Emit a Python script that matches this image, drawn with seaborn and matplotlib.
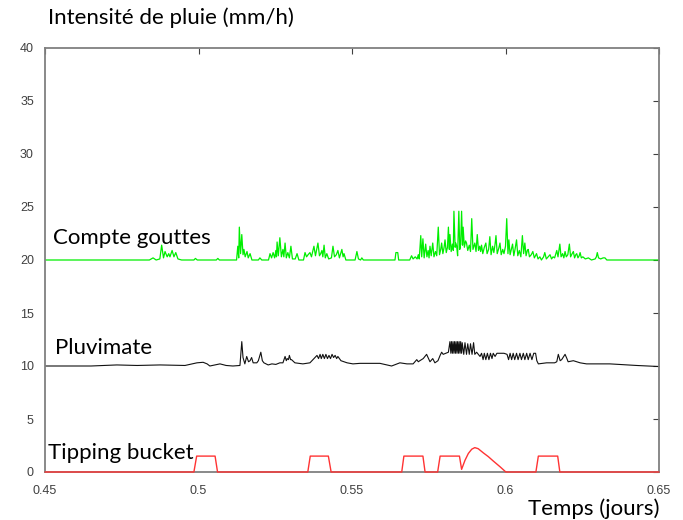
import matplotlib
matplotlib.use("Agg")
import matplotlib.pyplot as plt
import seaborn as sns
import pandas as pd

# --- Drop counter ("Compte gouttes") series, mm/h, offset to 20 ---
t_drops = [0.450, 0.484, 0.4852, 0.4862, 0.4874, 0.4880, 0.4886, 0.4891, 0.4898, 0.4903,
           0.4907, 0.4914, 0.4920, 0.4926, 0.4933, 0.4945, 0.4985, 0.4990, 0.4996, 0.5058,
           0.5063, 0.5068, 0.5124, 0.5128, 0.5131, 0.5133, 0.5137, 0.5141, 0.5145, 0.5148,
           0.5152, 0.5158, 0.5162, 0.5168, 0.5174, 0.5195, 0.5200, 0.5206, 0.5228, 0.5233,
           0.5238, 0.5243, 0.5248, 0.5252, 0.5254, 0.5256, 0.5260, 0.5265, 0.5270, 0.5275,
           0.5278, 0.5282, 0.5286, 0.5291, 0.5296, 0.5301, 0.5306, 0.5315, 0.5321, 0.5327,
           0.5342, 0.5347, 0.5352, 0.5357, 0.5363, 0.5368, 0.5376, 0.5381, 0.5389, 0.5394,
           0.5398, 0.5402, 0.5405, 0.5409, 0.5413, 0.5418, 0.5424, 0.5433, 0.5438, 0.5443,
           0.5449, 0.5454, 0.5459, 0.5467, 0.5471, 0.5474, 0.5480, 0.5510, 0.5516, 0.5521,
           0.5528, 0.5532, 0.5537, 0.5640, 0.5643, 0.5649, 0.5652, 0.5688, 0.5694, 0.5699,
           0.5706, 0.5712, 0.5716, 0.5719, 0.5724, 0.5727, 0.5731, 0.5735, 0.5740, 0.5744,
           0.5748, 0.5751, 0.5754, 0.5758, 0.5763, 0.5767, 0.5772, 0.5776, 0.5781, 0.5785,
           0.5789, 0.5792, 0.5796, 0.5800, 0.5803, 0.5807, 0.5811, 0.5814, 0.5817, 0.5819,
           0.5823, 0.5827, 0.5830, 0.5832, 0.5836, 0.5838, 0.5841, 0.5844, 0.5848, 0.5851,
           0.5854, 0.5857, 0.5860, 0.5862, 0.5866, 0.5870, 0.5873, 0.5877, 0.5882, 0.5886,
           0.5890, 0.5894, 0.5897, 0.5900, 0.5904, 0.5908, 0.5912, 0.5916, 0.5919, 0.5922,
           0.5926, 0.5931, 0.5936, 0.5940, 0.5945, 0.5949, 0.5953, 0.5958, 0.5962, 0.5966,
           0.5969, 0.5973, 0.5978, 0.5982, 0.5986, 0.5991, 0.5995, 0.6000, 0.6004, 0.6008,
           0.6011, 0.6015, 0.6019, 0.6023, 0.6027, 0.6031, 0.6036, 0.6040, 0.6045, 0.6050,
           0.6055, 0.6059, 0.6063, 0.6067, 0.6071, 0.6074, 0.6078, 0.6084, 0.6089, 0.6094,
           0.6101, 0.6106, 0.6112, 0.6117, 0.6124, 0.6128, 0.6133, 0.6139, 0.6145, 0.6150,
           0.6155, 0.6160, 0.6167, 0.6171, 0.6177, 0.6181, 0.6186, 0.6190, 0.6194, 0.6198,
           0.6203, 0.6208, 0.6212, 0.6217, 0.6221, 0.6225, 0.6229, 0.6232, 0.6236, 0.6240,
           0.6243, 0.6247, 0.6252, 0.6260, 0.6270, 0.6280, 0.6292, 0.6296, 0.6299, 0.6303,
           0.6310, 0.6318, 0.6324, 0.6330, 0.650]
v_drops = [20.0, 20.0, 20.2, 20.0, 20.1, 21.4, 20.2, 20.8, 20.3, 20.6,
           20.3, 20.9, 20.3, 20.7, 20.1, 20.0, 20.0, 20.15, 20.0, 20.0,
           20.15, 20.0, 20.0, 21.3, 20.2, 23.1, 20.6, 22.4, 20.5, 21.0,
           20.3, 20.8, 20.2, 20.6, 20.0, 20.0, 20.2, 20.0, 20.0, 20.6,
           20.2, 20.7, 20.2, 20.9, 20.3, 21.7, 20.4, 22.1, 20.3, 21.0,
           20.3, 21.6, 20.2, 20.7, 20.2, 21.3, 20.1, 20.1, 20.6, 20.0,
           20.0, 20.7, 20.3, 20.5, 20.7, 20.3, 21.3, 20.4, 21.6, 20.4,
           20.6, 20.9, 20.3, 21.4, 20.2, 20.6, 20.1, 20.2, 21.3, 20.3,
           20.5, 20.9, 20.2, 21.0, 20.3, 20.6, 20.0, 20.0, 20.8, 20.1,
           20.0, 20.2, 20.0, 20.0, 20.7, 20.7, 20.0, 20.0, 20.4, 20.1,
           20.3, 20.1, 20.5, 20.1, 22.3, 20.3, 22.0, 20.2, 21.5, 20.3,
           20.9, 20.2, 21.3, 20.4, 21.6, 20.3, 20.8, 20.4, 23.1, 20.5,
           21.0, 21.6, 20.6, 21.2, 21.9, 20.7, 21.2, 23.1, 21.0, 22.4,
           20.8, 21.5, 20.9, 24.6, 21.2, 21.6, 21.3, 20.4, 24.6, 21.0,
           21.5, 24.6, 21.4, 23.1, 21.2, 21.8, 21.6, 20.9, 21.4, 20.8,
           23.9, 21.0, 21.3, 21.6, 20.8, 22.4, 20.9, 21.3, 20.8, 21.4,
           20.6, 21.2, 21.6, 20.6, 21.0, 22.2, 20.5, 21.3, 20.7, 21.5,
           22.3, 20.6, 21.1, 21.6, 20.5, 21.0, 20.6, 21.3, 23.9, 20.6,
           21.9, 20.5, 21.0, 21.5, 20.4, 21.0, 21.9, 20.4, 20.9, 20.3,
           22.3, 20.6, 21.6, 20.4, 20.9, 21.0, 20.3, 20.5, 20.8, 20.2,
           20.6, 20.1, 20.3, 20.0, 20.3, 20.7, 20.1, 20.3, 20.5, 20.1,
           20.3, 20.2, 20.9, 20.3, 21.5, 20.3, 20.6, 20.2, 20.8, 20.3,
           20.5, 21.5, 20.3, 20.6, 20.8, 20.2, 20.5, 20.6, 20.2, 20.4,
           20.7, 20.2, 20.3, 20.1, 20.2, 20.0, 20.1, 20.3, 20.7, 20.2,
           20.1, 20.2, 20.2, 20.0, 20.0]

# --- Pluvimate series, mm/h, offset to 10 ---
t_pluvi = [0.450, 0.465, 0.4734, 0.4800, 0.4875, 0.4956, 0.4995, 0.5015, 0.5028, 0.5037,
           0.5054, 0.5070, 0.5090, 0.5112, 0.5135, 0.5141, 0.5145, 0.5151, 0.5157, 0.5163,
           0.5168, 0.5173, 0.5178, 0.5184, 0.5190, 0.5195, 0.5203, 0.5208, 0.5213, 0.5227,
           0.5239, 0.5252, 0.5265, 0.5275, 0.5282, 0.5286, 0.5289, 0.5293, 0.5296, 0.5300,
           0.5303, 0.5314, 0.5340, 0.5363, 0.5386, 0.5391, 0.5396, 0.5400, 0.5405, 0.5410,
           0.5415, 0.5420, 0.5425, 0.5430, 0.5435, 0.5440, 0.5445, 0.5450, 0.5454, 0.5464,
           0.5474, 0.5484, 0.5503, 0.5526, 0.5591, 0.5629, 0.5656, 0.5679, 0.5699, 0.5711,
           0.5716, 0.5721, 0.5732, 0.5743, 0.5754, 0.5763, 0.5770, 0.5780, 0.5787, 0.5792,
           0.5797, 0.5806, 0.5814, 0.5819, 0.5822, 0.5824, 0.5827, 0.5829, 0.5832, 0.5834,
           0.5837, 0.5839, 0.5842, 0.5844, 0.5847, 0.5849, 0.5852, 0.5854, 0.5857, 0.5859,
           0.5864, 0.5868, 0.5873, 0.5877, 0.5882, 0.5886, 0.5891, 0.5896, 0.5900, 0.5906,
           0.5917, 0.5922, 0.5927, 0.5931, 0.5936, 0.5941, 0.5946, 0.5951, 0.5956, 0.5960,
           0.5966, 0.5972, 0.5982, 0.5995, 0.6005, 0.6010, 0.6015, 0.6020, 0.6025, 0.6030,
           0.6036, 0.6041, 0.6047, 0.6052, 0.6058, 0.6063, 0.6069, 0.6074, 0.6080, 0.6086,
           0.6092, 0.6098, 0.6102, 0.6107, 0.6134, 0.6160, 0.6167, 0.6172, 0.6178, 0.6183,
           0.6194, 0.6200, 0.6204, 0.6221, 0.6243, 0.6264, 0.6340, 0.6427, 0.650]
v_pluvi = [10.0, 10.0, 10.1, 10.05, 10.1, 10.05, 10.3, 10.35, 10.2, 10.0,
           10.1, 10.2, 10.05, 10.0, 10.05, 12.3, 10.8, 10.2, 10.9, 10.4,
           10.5, 10.8, 10.3, 10.3, 10.3, 10.5, 11.3, 10.5, 10.3, 10.1,
           10.2, 10.15, 10.3, 10.3, 10.9, 10.5, 10.7, 10.6, 11.0, 10.6,
           10.6, 10.3, 10.2, 10.3, 11.0, 10.7, 11.1, 10.7, 11.1, 10.7,
           11.1, 10.7, 11.0, 10.7, 11.1, 10.8, 11.0, 10.7, 10.9, 10.5,
           10.4, 10.3, 10.2, 10.25, 10.25, 10.0, 10.3, 10.2, 10.2, 10.6,
           10.4, 10.5, 10.7, 11.1, 10.4, 10.7, 10.3, 10.5, 11.0, 11.3,
           11.1, 11.2, 11.3, 12.3, 11.2, 12.3, 11.2, 12.3, 11.2, 12.3,
           11.2, 12.3, 11.2, 12.3, 11.2, 12.3, 11.2, 12.3, 11.2, 12.2,
           11.1, 12.2, 11.1, 12.1, 11.1, 12.1, 11.1, 12.2, 11.1, 11.3,
           10.9, 11.2, 10.6, 11.2, 10.6, 11.2, 10.6, 11.2, 10.7, 11.2,
           10.9, 11.2, 11.2, 11.2, 11.1, 10.6, 11.2, 10.6, 11.2, 10.6,
           11.2, 10.6, 11.2, 10.6, 11.2, 10.6, 11.2, 10.6, 11.2, 10.6,
           11.2, 11.2, 10.5, 10.2, 10.3, 10.3, 10.4, 11.1, 10.5, 10.6,
           11.1, 10.7, 10.4, 10.5, 10.3, 10.2, 10.2, 10.05, 9.95]

# --- Tipping bucket series, mm/h ---
t_bucket = [0.450, 0.4985, 0.4994, 0.5054, 0.5062, 0.5356, 0.5364, 0.5423, 0.5432, 0.5662,
            0.5669, 0.5731, 0.5738, 0.5779, 0.5787, 0.5850, 0.5857, 0.5868, 0.5879, 0.5890,
            0.5900, 0.5911, 0.5928, 0.5944, 0.5960, 0.5982, 0.6000, 0.6002, 0.6099, 0.6107,
            0.6170, 0.6177, 0.650]
v_bucket = [0.0, 0.0, 1.5, 1.5, 0.0, 0.0, 1.5, 1.5, 0.0, 0.0,
            1.5, 1.5, 0.0, 0.0, 1.5, 1.5, 0.25, 1.1, 1.75, 2.15,
            2.3, 2.2, 1.8, 1.45, 1.04, 0.5, 0.03, 0.0, 0.0, 1.5,
            1.5, 0.0, 0.0]

x_ticks = [0.45, 0.5, 0.55, 0.6, 0.65]
x_tick_labels = ["0.45", "0.5", "0.55", "0.6", "0.65"]
y_ticks = [0, 5, 10, 15, 20, 25, 30, 35, 40]

sns.set_style("white")
plt.rcParams["font.family"] = ["Liberation Sans", "DejaVu Sans"]

fig = plt.figure(figsize=(6.83, 5.20), dpi=100)
ax = fig.add_axes([45 / 683, 48 / 520, 614 / 683, 424 / 520])

drops = pd.DataFrame({"t": t_drops, "v": v_drops})
pluvi = pd.DataFrame({"t": t_pluvi, "v": v_pluvi})
bucket = pd.DataFrame({"t": t_bucket, "v": v_bucket})

sns.lineplot(data=drops, x="t", y="v", ax=ax, color="#00ee00", linewidth=0.9,
             estimator=None, sort=False)
sns.lineplot(data=pluvi, x="t", y="v", ax=ax, color="#111111", linewidth=0.8,
             estimator=None, sort=False)
sns.lineplot(data=bucket, x="t", y="v", ax=ax, color="#ff3333", linewidth=1.0,
             estimator=None, sort=False, zorder=3, clip_on=False)

ax.set_xlim(0.45, 0.65)
ax.set_ylim(0, 40)
ax.set_xticks(x_ticks)
ax.set_xticklabels(x_tick_labels)
ax.set_yticks(y_ticks)
ax.set_xlabel("")
ax.set_ylabel("")

for side in ["left", "right", "top", "bottom"]:
    ax.spines[side].set_visible(True)
    ax.spines[side].set_color("#808080")
    ax.spines[side].set_linewidth(1.3)

ax.tick_params(axis="both", which="major", direction="in", length=4, width=0.8,
               color="#404040", labelsize=9, labelcolor="#404040",
               top=True, right=True)
ax.tick_params(axis="x", pad=9)
ax.tick_params(axis="y", pad=8)

label_font = ["Lato", "DejaVu Sans"]
ax.text(0.4526, 22.1, "Compte gouttes", fontsize=16, family=label_font,
        ha="left", va="center", color="black")
ax.text(0.4533, 11.7, "Pluvimate", fontsize=16, family=label_font,
        ha="left", va="center", color="black")
ax.text(0.4510, 1.8, "Tipping bucket", fontsize=16, family=label_font,
        ha="left", va="center", color="black")

fig.text(48 / 683, 1 - 18 / 520, "Intensité de pluie (mm/h)", fontsize=16,
         family=label_font, ha="left", va="center", color="black")
fig.text(660 / 683, 1 - 509 / 520, "Temps (jours)", fontsize=16,
         family=label_font, ha="right", va="center", color="black")

fig.savefig("out.png", dpi=100)
